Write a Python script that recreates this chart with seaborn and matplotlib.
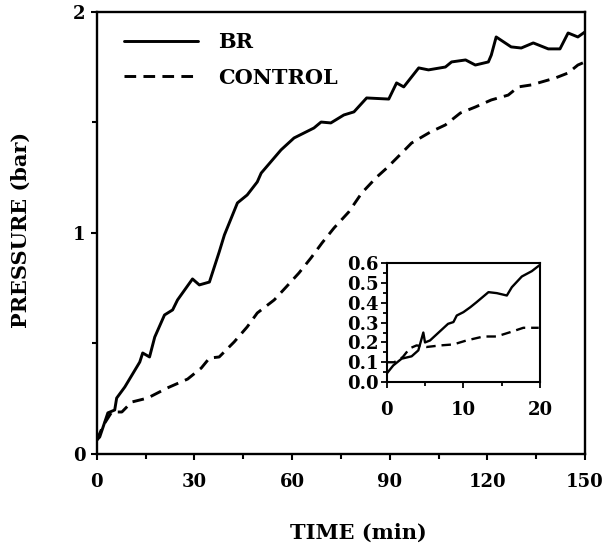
import matplotlib
matplotlib.use("Agg")
import matplotlib.pyplot as plt
import seaborn as sns
import pandas as pd
from matplotlib.ticker import MultipleLocator

# ---- data ----
br_time = [0, 0.9, 3.4, 5.5, 6.1, 8.6, 13.2, 14.1, 16.2, 17.8, 20.8, 23.3, 24.8, 29.4, 31.5,
           34.6, 37.6, 39.2, 43.2, 46.2, 49.3, 50.5, 56.6, 60.6, 66.7, 68.9, 71.9, 75.9, 79.0,
           82.9, 89.7, 92.1, 94.3, 98.9, 101.9, 107.1, 109.0, 113.3, 116.3, 120.3, 121.2,
           122.7, 127.3, 130.4, 134.1, 138.7, 142.3, 144.8, 147.8, 150.0]
br_pressure = [0.063, 0.077, 0.186, 0.199, 0.253, 0.303, 0.416, 0.457, 0.439, 0.529, 0.629,
               0.652, 0.697, 0.792, 0.765, 0.778, 0.914, 0.991, 1.136, 1.172, 1.231, 1.271,
               1.376, 1.430, 1.475, 1.502, 1.498, 1.534, 1.548, 1.611, 1.606, 1.679, 1.661,
               1.747, 1.738, 1.751, 1.774, 1.783, 1.760, 1.774, 1.805, 1.887, 1.842, 1.837,
               1.860, 1.833, 1.833, 1.905, 1.887, 1.910]

ctrl_time = [0, 2.0, 4.6, 7.7, 10.7, 15.6, 21.7, 27.9, 32.1, 34.6, 37.6, 42.2, 46.2, 49.3,
             54.5, 58.2, 62.1, 65.8, 69.2, 72.9, 77.4, 81.4, 86.0, 89.1, 93.7, 96.7, 102.5,
             107.1, 111.7, 116.3, 121.2, 126.4, 129.5, 133.5, 140.8, 144.8, 147.8, 150.0]
ctrl_pressure = [0.063, 0.13, 0.19, 0.190, 0.235, 0.253, 0.299, 0.339, 0.389, 0.434, 0.439,
                 0.507, 0.575, 0.638, 0.697, 0.756, 0.819, 0.887, 0.955, 1.023, 1.095, 1.181,
                 1.253, 1.294, 1.362, 1.407, 1.457, 1.489, 1.543, 1.570, 1.602, 1.624, 1.661,
                 1.670, 1.701, 1.724, 1.760, 1.774]

inset_br_time = [0, 0.87, 1.96, 3.26, 4.13, 4.78, 5.0, 5.65, 8.0, 8.7, 9.13, 10.0, 10.9,
                 11.7, 13.26, 14.35, 15.65, 16.3, 17.6, 18.9, 20.0]
inset_br_pressure = [0.042, 0.084, 0.118, 0.13, 0.16, 0.25, 0.20, 0.21, 0.294, 0.303, 0.336,
                     0.353, 0.378, 0.403, 0.454, 0.449, 0.437, 0.479, 0.533, 0.56, 0.593]
inset_ctrl_time = [0, 1.0, 2.1, 3.0, 3.9, 5.2, 7.0, 8.7, 10.4, 12.6, 14.3, 16.1, 17.8, 19.8]
inset_ctrl_pressure = [0.10, 0.10, 0.126, 0.17, 0.185, 0.177, 0.185, 0.19, 0.21, 0.23, 0.23,
                       0.252, 0.274, 0.274]

series_labels = ["BR", "CONTROL"]
main_xticks = [0, 30, 60, 90, 120, 150]
main_yticks = [0, 1, 2]
inset_xticks = [0, 10, 20]
inset_yticks = [0.0, 0.1, 0.2, 0.3, 0.4, 0.5, 0.6]

main_df = pd.concat([
    pd.DataFrame({"time": br_time, "pressure": br_pressure, "series": series_labels[0]}),
    pd.DataFrame({"time": ctrl_time, "pressure": ctrl_pressure, "series": series_labels[1]}),
])
inset_df = pd.concat([
    pd.DataFrame({"time": inset_br_time, "pressure": inset_br_pressure, "series": series_labels[0]}),
    pd.DataFrame({"time": inset_ctrl_time, "pressure": inset_ctrl_pressure, "series": series_labels[1]}),
])

sns.set_theme(style="ticks")
plt.rcParams["font.family"] = ["DejaVu Serif", "DejaVu Sans"]
plt.rcParams["font.weight"] = "bold"
for k in ["text.color", "axes.labelcolor", "xtick.color", "ytick.color", "axes.edgecolor"]:
    plt.rcParams[k] = "black"

FS = 13
LFS = 15
dash_map = {"BR": "", "CONTROL": (4, 2.5)}
pal = {"BR": "black", "CONTROL": "black"}

fig = plt.figure(figsize=(6.05, 5.45), dpi=100)
ax = fig.add_axes([0.160, 0.167, 0.807, 0.811])

sns.lineplot(data=main_df, x="time", y="pressure", hue="series", style="series",
             palette=pal, dashes=dash_map, linewidth=2.1, ax=ax, sort=False, estimator=None)
ax.set_xlim(0, 150)
ax.set_ylim(0, 2)
ax.set_xticks(main_xticks)
ax.set_yticks(main_yticks)
ax.xaxis.set_minor_locator(MultipleLocator(15))
ax.yaxis.set_minor_locator(MultipleLocator(0.5))
ax.tick_params(which="both", direction="out", width=1.5, labelsize=FS)
ax.tick_params(which="major", length=4)
ax.tick_params(which="minor", length=3.5)
ax.tick_params(axis="x", which="major", pad=10)
ax.tick_params(axis="y", which="major", pad=4)
for lab in ax.get_xticklabels() + ax.get_yticklabels():
    lab.set_fontweight("bold")
for sp in ax.spines.values():
    sp.set_visible(True)
    sp.set_linewidth(1.7)
ax.set_xlabel("TIME (min)", fontsize=LFS, fontweight="bold")
ax.set_ylabel("PRESSURE (bar)", fontsize=LFS, fontweight="bold")
ax.xaxis.set_label_coords(0.535, -0.156)
ax.yaxis.set_label_coords(-0.135, 0.507)

handles, labels = ax.get_legend_handles_labels()
leg = ax.legend(handles, labels, loc="upper left", bbox_to_anchor=(0.055, 0.955),
                frameon=False, handlelength=3.55, labelspacing=0.75, handletextpad=1.0,
                borderaxespad=0, borderpad=0,
                prop={"family": "DejaVu Serif", "weight": "bold", "size": 15})
for h in leg.get_lines():
    h.set_linewidth(2.1)

# inset
axi = fig.add_axes([0.639, 0.299, 0.254, 0.218])
sns.lineplot(data=inset_df, x="time", y="pressure", hue="series", style="series",
             palette=pal, dashes=dash_map, linewidth=1.7, ax=axi, sort=False,
             estimator=None, legend=False)
axi.set_xlim(0, 20)
axi.set_ylim(0, 0.6)
axi.set_xticks(inset_xticks)
axi.set_yticks(inset_yticks)
axi.set_yticklabels([f"{v:.1f}" for v in inset_yticks])
axi.xaxis.set_minor_locator(MultipleLocator(5))
axi.yaxis.set_minor_locator(MultipleLocator(0.05))
axi.tick_params(which="both", direction="out", width=1.3, labelsize=FS)
axi.tick_params(axis="x", which="major", length=4, pad=10)
axi.tick_params(axis="x", which="minor", length=3)
axi.tick_params(axis="y", which="major", length=4, pad=2)
axi.tick_params(axis="y", which="minor", length=3)
for lab in axi.get_xticklabels() + axi.get_yticklabels():
    lab.set_fontweight("bold")
for sp in axi.spines.values():
    sp.set_visible(True)
    sp.set_linewidth(1.5)
axi.set_xlabel("")
axi.set_ylabel("")

fig.savefig("out.png", dpi=100)
